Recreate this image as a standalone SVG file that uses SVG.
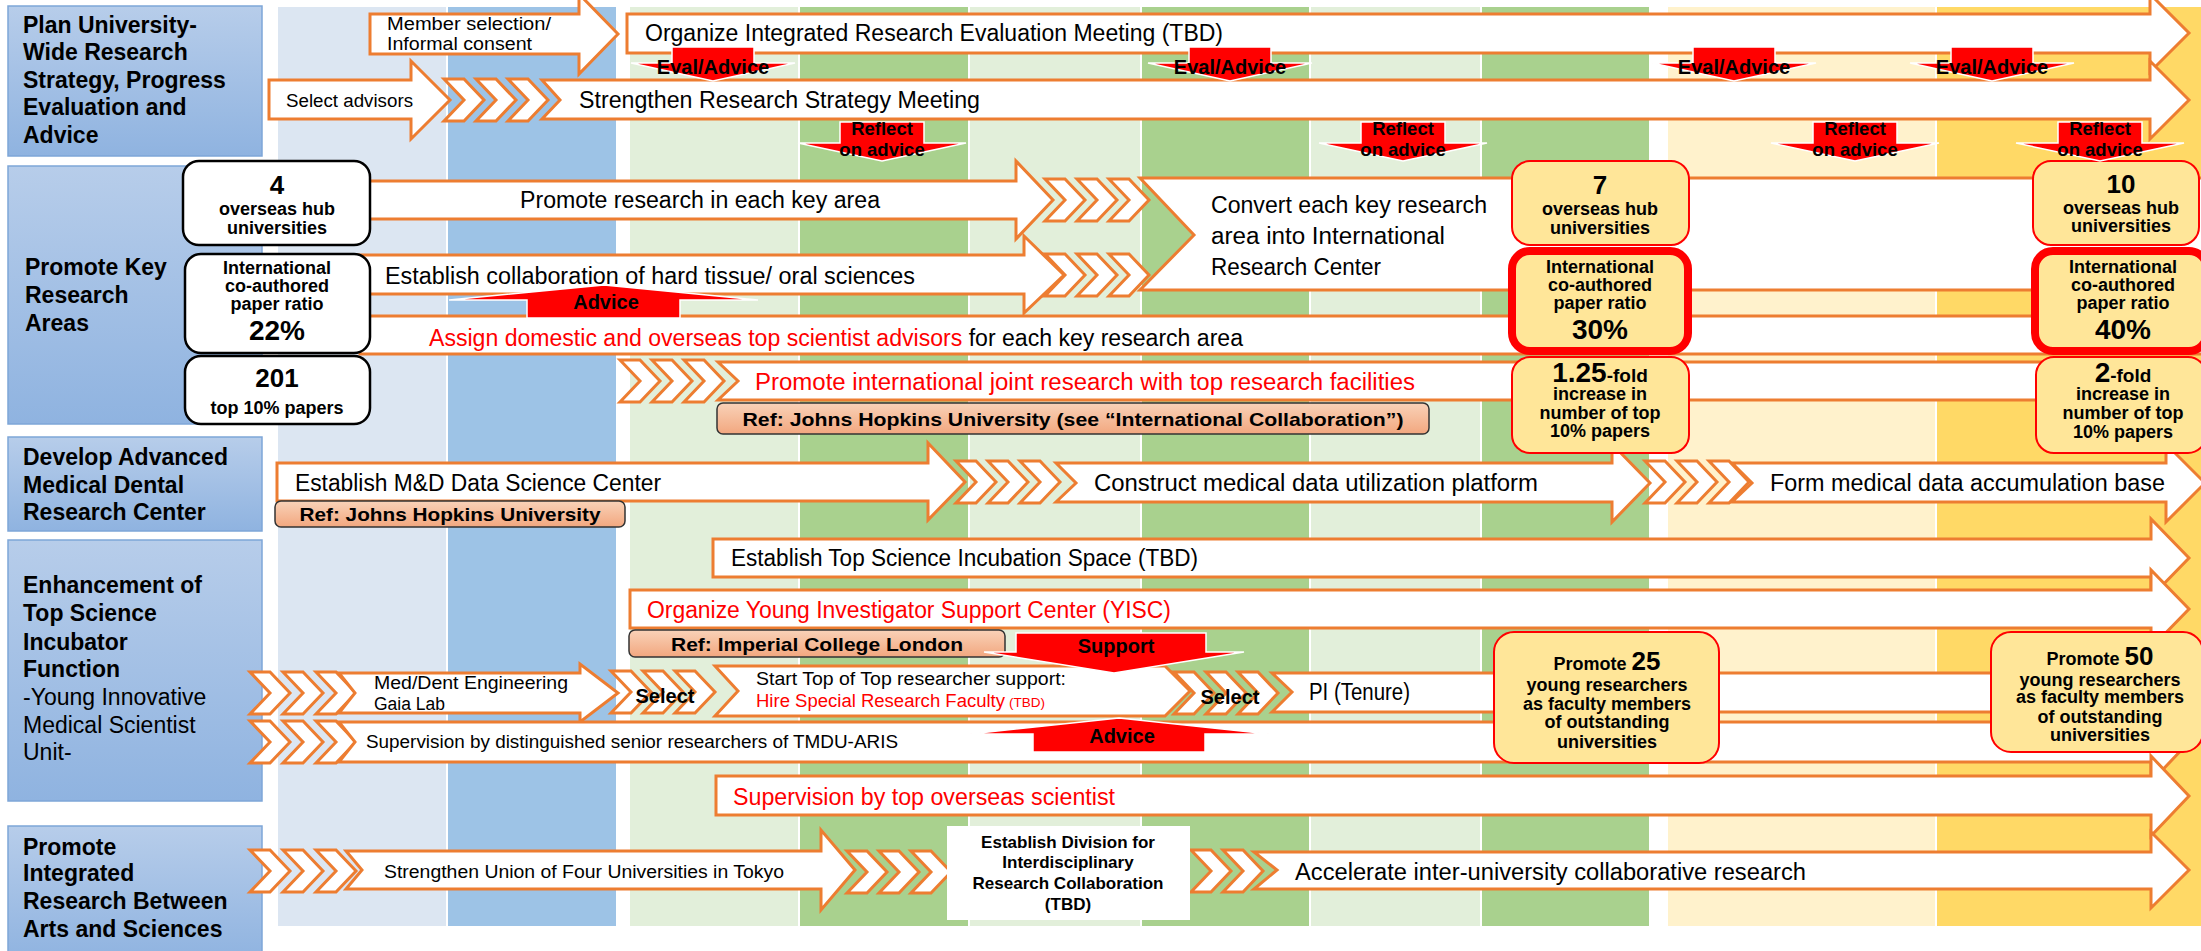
<svg xmlns="http://www.w3.org/2000/svg" width="2201" height="951" viewBox="0 0 2201 951">
<defs>
<linearGradient id="gBlue" x1="0" y1="0" x2="0" y2="1"><stop offset="0" stop-color="#b7cdea"/><stop offset="1" stop-color="#8fb3e0"/></linearGradient>
<linearGradient id="gRef" x1="0" y1="0" x2="0" y2="1"><stop offset="0" stop-color="#f9d2b8"/><stop offset="1" stop-color="#f2a77f"/></linearGradient>
<path id="chev" d="M0,-21 H20 L40,0 L20,21 H0 L20,0 Z" fill="#ffffff" stroke="#ed7d31" stroke-width="3"/>
</defs>
<style>
text{font-family:'Liberation Sans',Arial,sans-serif;fill:#000}
.arr{fill:#fff;stroke:#ed7d31;stroke-width:3;stroke-linejoin:miter}
.lbl{fill:url(#gBlue);stroke:#7ea6d8;stroke-width:1.5}
.lt{font-size:23px;font-weight:bold}
.lr{font-size:23px}
.t{font-size:23px}
.s{font-size:18px}
.red{fill:#ff0000}
.ra{fill:#ff0000;stroke:#fff;stroke-width:1.5}
.rt{font-size:20px;font-weight:bold;text-anchor:middle}
.rf{font-size:18.5px;font-weight:bold;text-anchor:middle}
.wb{fill:#fff;stroke:#000;stroke-width:2.5}
.yb{fill:#ffe699;stroke:#ff0000;stroke-width:2}
.yb2{fill:#ffe699;stroke:#ff0000;stroke-width:8}
.bt{font-size:18px;font-weight:bold;text-anchor:middle}
.big{font-size:26px;font-weight:bold;text-anchor:middle}
.pct{font-size:28px;font-weight:bold;text-anchor:middle}
.ref{fill:url(#gRef);stroke:#333;stroke-width:1.5}
.reft{font-size:19px;font-weight:bold;text-anchor:middle}
.dv{font-size:17px;font-weight:bold;text-anchor:middle}
</style>
<rect width="2201" height="951" fill="#fff"/>
<g id="columns">
<rect x="278" y="7" width="168" height="919" fill="#dce6f2"/>
<rect x="448" y="7" width="168" height="919" fill="#9dc3e6"/>
<rect x="630" y="7" width="168" height="919" fill="#e2efda"/>
<rect x="800" y="7" width="168" height="919" fill="#a9d18e"/>
<rect x="970" y="7" width="170" height="919" fill="#e2efda"/>
<rect x="1142" y="7" width="167" height="919" fill="#a9d18e"/>
<rect x="1311" y="7" width="169" height="919" fill="#e2efda"/>
<rect x="1482" y="7" width="167" height="919" fill="#a9d18e"/>
<rect x="1668" y="7" width="267" height="919" fill="#fff2cc"/>
<rect x="1937" y="7" width="264" height="919" fill="#ffd966"/>
</g>
<g id="labels">
<g id="lbl-plan"><rect x="8" y="6" width="254" height="150" class="lbl"/>
<text class="lt" x="23" y="33">Plan University-</text><text class="lt" x="23" y="60">Wide Research</text><text class="lt" x="23" y="88">Strategy, Progress</text><text class="lt" x="23" y="115">Evaluation and</text><text class="lt" x="23" y="143">Advice</text></g>
<g id="lbl-key"><rect x="8" y="166" width="254" height="258" class="lbl"/>
<text class="lt" x="25" y="275">Promote Key</text><text class="lt" x="25" y="303">Research</text><text class="lt" x="25" y="331">Areas</text></g>
<g id="lbl-md"><rect x="8" y="437" width="254" height="94" class="lbl"/>
<text class="lt" x="23" y="465">Develop Advanced</text><text class="lt" x="23" y="493">Medical Dental</text><text class="lt" x="23" y="520">Research Center</text></g>
<g id="lbl-top"><rect x="8" y="540" width="254" height="261" class="lbl"/>
<text class="lt" x="23" y="593">Enhancement of</text><text class="lt" x="23" y="621">Top Science</text><text class="lt" x="23" y="650">Incubator</text><text class="lt" x="23" y="677">Function</text>
<text class="lr" x="23" y="705">-Young Innovative</text><text class="lr" x="23" y="733">Medical Scientist</text><text class="lr" x="23" y="760">Unit-</text></g>
<g id="lbl-arts"><rect x="8" y="826" width="254" height="135" class="lbl"/>
<text class="lt" x="23" y="855">Promote</text><text class="lt" x="23" y="881">Integrated</text><text class="lt" x="23" y="909">Research Between</text><text class="lt" x="23" y="937">Arts and Sciences</text></g>
</g>
<g id="connectors">
<polygon class="arr" points="370,14 579,14 579,-6 618,34 579,74 579,54 370,54"/>
<polygon class="arr" points="627,14 2150,14 2150,-6 2189,33 2150,72 2150,53 627,53"/>
<polygon class="arr" points="269,80 411,80 411,61 450,100 411,139 411,119 269,119"/>
<use href="#chev" x="444" y="100"/><use href="#chev" x="476" y="100"/><use href="#chev" x="508" y="100"/>
<polygon class="arr" points="542,80 2150,80 2150,61 2189,100 2150,139 2150,119 542,119 560,100"/>

<polygon class="arr" points="1140,178 2215,178 2215,290 1140,290 1194,235"/>
<polygon class="arr" points="360,181 1016,181 1016,161 1053,200 1016,239 1016,219 360,219"/>
<polygon class="arr" points="250,255 1024,255 1024,236 1064,275 1024,313 1024,294 250,294"/>
<use href="#chev" x="1045" y="200"/><use href="#chev" x="1077" y="200"/><use href="#chev" x="1109" y="200"/>
<use href="#chev" x="1045" y="275"/><use href="#chev" x="1077" y="275"/><use href="#chev" x="1109" y="275"/>
<polygon class="arr" points="360,316 2215,316 2215,354 360,354"/>
<use href="#chev" x="620" y="381"/><use href="#chev" x="652" y="381"/><use href="#chev" x="684" y="381"/>
<polygon class="arr" points="718,362 2215,362 2215,400 718,400 738,381"/>

<polygon class="arr" points="277,463 928,463 928,443 965,482 928,520 928,501 277,501"/>
<use href="#chev" x="956" y="482"/><use href="#chev" x="988" y="482"/><use href="#chev" x="1020" y="482"/>
<polygon class="arr" points="1056,463 1612,463 1612,444 1650,483 1612,522 1612,502 1056,502 1076,483"/>
<use href="#chev" x="1645" y="482"/><use href="#chev" x="1677" y="482"/><use href="#chev" x="1709" y="482"/>
<polygon class="arr" points="1732,463 2166,463 2166,444 2205,483 2166,522 2166,502 1732,502 1752,483"/>

<polygon class="arr" points="713,539 2151,539 2151,519 2189,558 2151,597 2151,577 713,577"/>
<polygon class="arr" points="630,590 2151,590 2151,570 2189,609 2151,648 2151,628 630,628"/>
<use href="#chev" x="250" y="693"/><use href="#chev" x="283" y="693"/><use href="#chev" x="316" y="693"/>
<polygon class="arr" points="339,673 580,673 580,664 618,693 580,722 580,713 339,713 355,693"/>
<use href="#chev" x="611" y="692"/><use href="#chev" x="643" y="692"/><use href="#chev" x="675" y="692"/>
<polygon class="arr" points="715,666 1165,666 1190,691 1165,716 715,716 738,691"/>
<polygon class="arr" points="1272,673 2170,673 2170,712 1272,712 1292,692"/>
<use href="#chev" x="1174" y="693"/><use href="#chev" x="1206" y="693"/><use href="#chev" x="1238" y="693"/>
<use href="#chev" x="250" y="742"/><use href="#chev" x="283" y="742"/><use href="#chev" x="316" y="742"/>
<polygon class="arr" points="339,722 2151,722 2151,702 2189,742 2151,782 2151,762 339,762 355,742"/>
<polygon class="arr" points="716,776 2151,776 2151,756 2189,796 2151,836 2151,815 716,815"/>

<use href="#chev" x="250" y="871"/><use href="#chev" x="283" y="871"/><use href="#chev" x="316" y="871"/>
<polygon class="arr" points="346,851 821,851 821,830 855,870 821,910 821,889 346,889 362,870"/>
<use href="#chev" x="847" y="872"/><use href="#chev" x="879" y="872"/><use href="#chev" x="911" y="872"/>
<use href="#chev" x="1191" y="871"/><use href="#chev" x="1223" y="871"/>
<polygon class="arr" points="1254,852 2151,852 2151,832 2189,870 2151,908 2151,889 1254,889 1277,870"/>
</g>
<g id="arrow-texts">
<text class="s" x="387" y="30" textLength="164" lengthAdjust="spacingAndGlyphs">Member selection/</text>
<text class="s" x="387" y="50" textLength="145" lengthAdjust="spacingAndGlyphs">Informal consent</text>
<text class="t" x="645" y="41" textLength="578" lengthAdjust="spacingAndGlyphs">Organize Integrated Research Evaluation Meeting (TBD)</text>
<text class="s" x="286" y="107" textLength="127" lengthAdjust="spacingAndGlyphs">Select advisors</text>
<text class="t" x="579" y="108" textLength="401" lengthAdjust="spacingAndGlyphs">Strengthen Research Strategy Meeting</text>
<text class="t" x="520" y="208" textLength="360" lengthAdjust="spacingAndGlyphs">Promote research in each key area</text>
<text class="t" x="385" y="284" textLength="530" lengthAdjust="spacingAndGlyphs">Establish collaboration of hard tissue/ oral sciences</text>
<text class="t" x="1211" y="213" textLength="276" lengthAdjust="spacingAndGlyphs">Convert each key research</text>
<text class="t" x="1211" y="244" textLength="234" lengthAdjust="spacingAndGlyphs">area into International</text>
<text class="t" x="1211" y="275" textLength="170" lengthAdjust="spacingAndGlyphs">Research Center</text>
<text class="t" x="429" y="346" textLength="814" lengthAdjust="spacingAndGlyphs"><tspan class="red">Assign domestic and overseas top scientist advisors</tspan> for each key research area</text>
<text class="t red" x="755" y="390" textLength="660" lengthAdjust="spacingAndGlyphs">Promote international joint research with top research facilities</text>
<text class="t" x="295" y="491" textLength="366" lengthAdjust="spacingAndGlyphs">Establish M&amp;D Data Science Center</text>
<text class="t" x="1094" y="491" textLength="444" lengthAdjust="spacingAndGlyphs">Construct medical data utilization platform</text>
<text class="t" x="1770" y="491" textLength="395" lengthAdjust="spacingAndGlyphs">Form medical data accumulation base</text>
<text class="t" x="731" y="566" textLength="467" lengthAdjust="spacingAndGlyphs">Establish Top Science Incubation Space (TBD)</text>
<text class="t red" x="647" y="618" textLength="524" lengthAdjust="spacingAndGlyphs">Organize Young Investigator Support Center (YISC)</text>
<text class="s" x="374" y="689" textLength="194" lengthAdjust="spacingAndGlyphs">Med/Dent Engineering</text>
<text class="s" x="374" y="710" textLength="71" lengthAdjust="spacingAndGlyphs">Gaia Lab</text>
<text class="s" x="756" y="685" textLength="310" lengthAdjust="spacingAndGlyphs">Start Top of Top researcher support:</text>
<text class="s red" x="756" y="707" textLength="249" lengthAdjust="spacingAndGlyphs">Hire Special Research Faculty</text>
<text class="red" x="1009" y="707" font-size="12" textLength="36" lengthAdjust="spacingAndGlyphs">(TBD)</text>
<text class="t" x="1309" y="700" font-size="20" textLength="101" lengthAdjust="spacingAndGlyphs">PI (Tenure)</text>
<text class="s" x="366" y="748" textLength="532" lengthAdjust="spacingAndGlyphs">Supervision by distinguished senior researchers of TMDU-ARIS</text>
<text class="t red" x="733" y="805" textLength="382" lengthAdjust="spacingAndGlyphs">Supervision by top overseas scientist</text>
<text class="s" x="384" y="878" textLength="400" lengthAdjust="spacingAndGlyphs">Strengthen Union of Four Universities in Tokyo</text>
<text class="t" x="1295" y="880" textLength="511" lengthAdjust="spacingAndGlyphs">Accelerate inter-university collaborative research</text>
</g>
<g id="division-box">
<rect x="947" y="826" width="243" height="94" fill="#fff"/>
<text class="dv" x="1068" y="848">Establish Division for</text>
<text class="dv" x="1068" y="868">Interdisciplinary</text>
<text class="dv" x="1068" y="889">Research Collaboration</text>
<text class="dv" x="1068" y="910" font-size="15">(TBD)</text>
</g>
<g id="select-labels">
<text class="rt" x="665" y="703">Select</text>
<text class="rt" x="1230" y="704">Select</text>
</g>
<g id="ref-boxes">
<g id="ref-jhu-intl"><rect x="717" y="403" width="712" height="31" rx="6" class="ref"/><text class="reft" x="1073" y="426" textLength="661" lengthAdjust="spacingAndGlyphs">Ref: Johns Hopkins University (see “International Collaboration”)</text></g>
<g id="ref-jhu"><rect x="275" y="501" width="350" height="26" rx="6" class="ref"/><text class="reft" x="450" y="521" textLength="301" lengthAdjust="spacingAndGlyphs">Ref: Johns Hopkins University</text></g>
<g id="ref-icl"><rect x="629" y="630" width="376" height="27" rx="6" class="ref"/><text class="reft" x="817" y="651" textLength="292" lengthAdjust="spacingAndGlyphs">Ref: Imperial College London</text></g>
</g>
<g id="baseline-boxes">
<g id="box-4"><rect x="183" y="161" width="187" height="84" rx="16" class="wb"/>
<text class="big" x="277" y="194">4</text><text class="bt" x="277" y="215">overseas hub</text><text class="bt" x="277" y="234">universities</text></g>
<g id="box-22"><rect x="185" y="254" width="185" height="99" rx="16" class="wb"/>
<text class="bt" x="277" y="274">International</text><text class="bt" x="277" y="292">co-authored</text><text class="bt" x="277" y="310">paper ratio</text><text class="pct" x="277" y="340">22%</text></g>
<g id="box-201"><rect x="185" y="356" width="185" height="68" rx="16" class="wb"/>
<text class="big" x="277" y="387">201</text><text class="bt" x="277" y="414">top 10% papers</text></g>
</g>
<g id="target-boxes">
<g id="box-7"><rect x="1512" y="161" width="177" height="84" rx="18" class="yb"/>
<text class="big" x="1600" y="194">7</text><text class="bt" x="1600" y="215">overseas hub</text><text class="bt" x="1600" y="234">universities</text></g>
<g id="box-30"><rect x="1512" y="251" width="176" height="100" rx="18" class="yb2"/>
<text class="bt" x="1600" y="273">International</text><text class="bt" x="1600" y="291">co-authored</text><text class="bt" x="1600" y="309">paper ratio</text><text class="pct" x="1600" y="339">30%</text></g>
<g id="box-125"><rect x="1512" y="357" width="177" height="96" rx="18" class="yb"/>
<text class="bt" x="1600" y="382"><tspan font-size="28">1.25</tspan><tspan font-size="19">-fold</tspan></text>
<text class="bt" x="1600" y="400">increase in</text><text class="bt" x="1600" y="419">number of top</text><text class="bt" x="1600" y="437">10% papers</text></g>
<g id="box-10"><rect x="2033" y="161" width="166" height="84" rx="18" class="yb"/>
<text class="big" x="2121" y="193">10</text><text class="bt" x="2121" y="214">overseas hub</text><text class="bt" x="2121" y="232">universities</text></g>
<g id="box-40"><rect x="2035" y="251" width="172" height="100" rx="18" class="yb2"/>
<text class="bt" x="2123" y="273">International</text><text class="bt" x="2123" y="291">co-authored</text><text class="bt" x="2123" y="309">paper ratio</text><text class="pct" x="2123" y="339">40%</text></g>
<g id="box-2f"><rect x="2036" y="357" width="170" height="96" rx="18" class="yb"/>
<text class="bt" x="2123" y="382"><tspan font-size="28">2</tspan><tspan font-size="19">-fold</tspan></text>
<text class="bt" x="2123" y="400">increase in</text><text class="bt" x="2123" y="419">number of top</text><text class="bt" x="2123" y="438">10% papers</text></g>
<g id="box-25"><rect x="1494" y="632" width="225" height="131" rx="20" class="yb"/>
<text class="bt" x="1607" y="670">Promote <tspan font-size="26">25</tspan></text>
<text class="bt" x="1607" y="691">young researchers</text><text class="bt" x="1607" y="710">as faculty members</text><text class="bt" x="1607" y="728">of outstanding</text><text class="bt" x="1607" y="748">universities</text></g>
<g id="box-50"><rect x="1991" y="632" width="212" height="120" rx="20" class="yb"/>
<text class="bt" x="2100" y="665">Promote <tspan font-size="26">50</tspan></text>
<text class="bt" x="2100" y="686">young researchers</text><text class="bt" x="2100" y="703">as faculty members</text><text class="bt" x="2100" y="723">of outstanding</text><text class="bt" x="2100" y="741">universities</text></g>
</g>
<g id="red-arrows">
<polygon class="ra" points="672,47 754,47 754,63 795,63 713,81 631,63 672,63"/><text class="rt" x="713" y="74">Eval/Advice</text>
<polygon class="ra" points="1189,47 1271,47 1271,63 1312,63 1230,81 1148,63 1189,63"/><text class="rt" x="1230" y="74">Eval/Advice</text>
<polygon class="ra" points="1693,47 1775,47 1775,63 1816,63 1734,81 1652,63 1693,63"/><text class="rt" x="1734" y="74">Eval/Advice</text>
<polygon class="ra" points="1951,47 2033,47 2033,63 2074,63 1992,81 1910,63 1951,63"/><text class="rt" x="1992" y="74">Eval/Advice</text>
<polygon class="ra" points="840,122 924,122 924,143 966,143 882,161 798,143 840,143"/><text class="rf" x="882" y="135">Reflect</text><text class="rf" x="882" y="156">on advice</text>
<polygon class="ra" points="1361,122 1445,122 1445,143 1487,143 1403,161 1319,143 1361,143"/><text class="rf" x="1403" y="135">Reflect</text><text class="rf" x="1403" y="156">on advice</text>
<polygon class="ra" points="1813,122 1897,122 1897,143 1939,143 1855,161 1771,143 1813,143"/><text class="rf" x="1855" y="135">Reflect</text><text class="rf" x="1855" y="156">on advice</text>
<polygon class="ra" points="2058,122 2142,122 2142,143 2184,143 2100,161 2016,143 2058,143"/><text class="rf" x="2100" y="135">Reflect</text><text class="rf" x="2100" y="156">on advice</text>
<polygon class="ra" points="604,285 758,300 680,300 680,318 527,318 527,300 449,300"/><text class="rt" x="606" y="309">Advice</text>
<polygon class="ra" points="1016,633 1206,633 1206,652 1244,652 1114,673 984,652 1016,652"/><text class="rt" x="1116" y="653">Support</text>
<polygon class="ra" points="1119,718 1269,734 1205,734 1205,752 1033,752 1033,734 970,734"/><text class="rt" x="1122" y="743">Advice</text>
</g>
</svg>
